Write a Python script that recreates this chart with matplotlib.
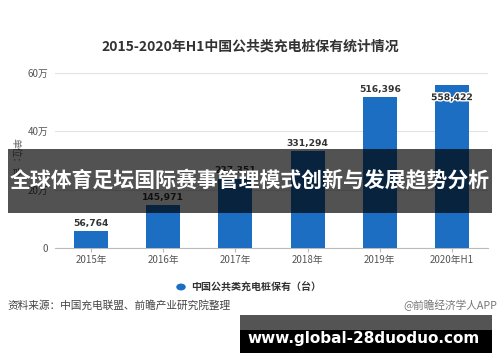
import matplotlib
matplotlib.use("Agg")
import matplotlib.pyplot as plt
from matplotlib.patches import Rectangle, Circle
import matplotlib.patheffects as pe

plt.rcParams['font.family'] = ['Noto Sans CJK SC', 'DejaVu Sans']

categories = ["2015年", "2016年", "2017年", "2018年", "2019年", "2020年H1"]
values = [56764, 145971, 237351, 331294, 516396, 558422]
value_labels = ["56,764", "145,971", "237,351", "331,294", "516,396", "558,422"]
yticks = [0, 200000, 400000, 600000]
ytick_labels = ["0", "20万", "40万", "60万"]

title = "2015-2020年H1中国公共类充电桩保有统计情况"
legend_label = "中国公共类充电桩保有（台）"
ylabel = "单位：台"
source = "资料来源：中国充电联盟、前瞻产业研究院整理"
credit = "@前瞻经济学人APP"
banner = "全球体育足坛国际赛事管理模式创新与发展趋势分析"
url = "www.global-28duoduo.com"

W, H = 500, 362
fig = plt.figure(figsize=(W / 100, H / 100), dpi=100)
fig.patch.set_facecolor("white")

def fx(x):
    return x / W

def fy(y):
    return 1 - y / H

bar_color = "#1b6ec2"

ax = fig.add_axes([fx(55), fy(248), fx(488) - fx(55), fy(73) - fy(248)])
x = list(range(len(categories)))
ax.bar(x, values, width=0.47, color=bar_color, zorder=3)
ax.set_xlim(-0.5, len(categories) - 0.5)
ax.set_ylim(0, 600000)
ax.set_yticks(yticks)
ax.set_yticklabels(ytick_labels)
ax.set_xticks(x)
ax.set_xticklabels(categories)
for s in ["top", "right", "left"]:
    ax.spines[s].set_visible(False)
ax.spines["bottom"].set_color("#bbbbbb")
ax.spines["bottom"].set_linewidth(0.8)
ax.tick_params(axis="y", length=0, labelsize=7, labelcolor="#555555", pad=5)
ax.tick_params(axis="x", length=3, color="#bbbbbb", labelsize=7, labelcolor="#555555", pad=2)
ax.yaxis.grid(True, color="#e3e3e3", linewidth=0.8, zorder=0)
ax.set_axisbelow(True)

offsets = [6, 6, 6, 6, 6, -9]
for xi, v, lab, off in zip(x, values, value_labels, offsets):
    t = ax.annotate(lab, (xi, v), xytext=(0, off), textcoords="offset points",
                    ha="center", va="center", fontsize=6.6, fontweight="bold",
                    color="#333333", family="DejaVu Sans", zorder=5)
    if off < 0:
        t.set_path_effects([pe.withStroke(linewidth=2, foreground="white")])

fig.text(fx(250), fy(47), title, ha="center", va="center", fontsize=10,
         fontweight="bold", color="#333333")

fig.text(fx(15), fy(158), ylabel, ha="center", va="center", fontsize=7,
         color="#666666", rotation=-90)

# legend
fig.patches.append(Circle((fx(181), fy(287)), 0.0095, transform=fig.transFigure,
                          facecolor=bar_color, edgecolor="none"))
fig.text(fx(191), fy(287), legend_label, ha="left", va="center", fontsize=7.2,
         fontweight="bold", color="#333333")

fig.text(fx(7), fy(305), source, ha="left", va="center", fontsize=7.7, color="#444444")
fig.text(fx(497), fy(305), credit, ha="right", va="center", fontsize=7.7, color="#777777")

# central banner
fig.patches.append(Rectangle((fx(8), fy(213)), fx(492) - fx(8), fy(149) - fy(213),
                             transform=fig.transFigure, facecolor="black",
                             alpha=0.68, edgecolor="none", zorder=10))
fig.text(fx(250), fy(181), banner, ha="center", va="center", fontsize=15,
         fontweight="bold", color="white", zorder=11)

# bottom url banner
fig.patches.append(Rectangle((fx(240), fy(353)), fx(492) - fx(240), fy(315) - fy(353),
                             transform=fig.transFigure, facecolor="black",
                             alpha=0.67, edgecolor="none", zorder=10))
fig.patches.append(Rectangle((fx(240), fy(353)), fx(492) - fx(240), fy(330) - fy(353),
                             transform=fig.transFigure, facecolor="black",
                             edgecolor="none", zorder=10))
fig.text(fx(364), fy(338), url, ha="center", va="center", fontsize=11,
         fontweight="bold", color="white", family="DejaVu Sans", zorder=11)

fig.savefig("out.png", dpi=100, facecolor="white")
